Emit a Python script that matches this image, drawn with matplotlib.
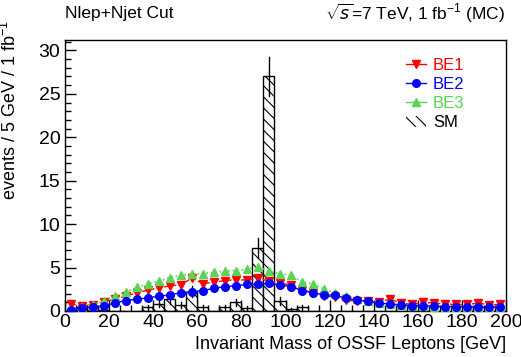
import numpy as np
import matplotlib
matplotlib.use('Agg')
import matplotlib.pyplot as plt
import matplotlib.patches as patches
from matplotlib.lines import Line2D
from matplotlib.ticker import MultipleLocator

plt.rcParams['font.family'] = ['Liberation Sans', 'DejaVu Sans']
plt.rcParams['mathtext.fontset'] = 'custom'
plt.rcParams['mathtext.rm'] = 'Liberation Sans'
plt.rcParams['hatch.linewidth'] = 0.8

# bin edges: 0..200 GeV in 5 GeV bins
bin_edges = np.arange(0, 205, 5)
bin_centers = bin_edges[:-1] + 2.5

# SM background (hatched histogram)
sm = [0, 0.4, 0.4, 0.15, 0, 0, 0, 0.4, 0.85, 1.35,
      0.65, 2.2, 0.4, 0, 0.4, 1.0, 0.3, 7.2, 27.0, 1.2,
      0.2, 0.4, 0, 0, 0, 0, 0, 0, 0, 0,
      0, 0, 0, 0, 0, 0, 0, 0.4, 0, 0]
sm_err = [0, 0.27, 0.27, 0.16, 0, 0, 0, 0.27, 0.39, 0.5,
          0.34, 0.63, 0.27, 0, 0.27, 0.42, 0.23, 1.15, 2.2, 0.46,
          0.19, 0.27, 0, 0, 0, 0, 0, 0, 0, 0,
          0, 0, 0, 0, 0, 0, 0, 0.27, 0, 0]

# signal scenarios
be1 = [0.8, 0.6, 0.7, 1.05, 1.35, 1.7, 2.1, 2.4, 2.65, 2.9,
       3.0, 3.8, 3.15, 3.3, 3.5, 3.6, 3.55, 3.75, 3.45, 3.2,
       3.0, 2.4, 2.1, 1.7, 1.6, 1.25, 1.1, 1.1, 1.05, 1.35,
       0.9, 0.75, 1.0, 0.9, 0.8, 0.75, 0.75, 0.9, 0.7, 0.75]
be2 = [0.15, 0.3, 0.45, 0.6, 0.9, 1.2, 1.35, 1.5, 1.7, 1.85,
       2.1, 2.2, 2.35, 2.6, 2.8, 2.9, 3.05, 3.05, 3.2, 3.0,
       2.8, 2.35, 2.1, 1.85, 1.8, 1.45, 1.25, 1.1, 0.9, 0.8,
       0.7, 0.62, 0.6, 0.52, 0.5, 0.5, 0.47, 0.45, 0.45, 0.42]
be3 = [0.15, 0.4, 0.7, 1.15, 1.7, 2.2, 2.7, 3.1, 3.4, 3.85,
       4.1, 4.25, 4.3, 4.45, 4.6, 4.65, 4.8, 5.05, 4.6, 4.3,
       4.1, 3.35, 3.1, 2.5, 2.05, 1.75, 1.35, 1.15, 0.95, 0.8,
       0.68, 0.57, 0.55, 0.5, 0.48, 0.45, 0.42, 0.4, 0.38, 0.38]

red = '#ff0000'
blue = '#0000ff'
green = '#59d454'

fig = plt.figure(figsize=(5.21, 3.57), dpi=100)
ax = fig.add_axes([0.125, 0.129, 0.846, 0.759])

# SM histogram
ax.bar(bin_centers, sm, width=5, color='white', edgecolor='black',
       hatch='\\\\\\', linewidth=1.0, zorder=2)
for xc, v, e in zip(bin_centers, sm, sm_err):
    if v > 0:
        ax.plot([xc, xc], [v - e, v + e], color='black', lw=1.0, zorder=3)

# signal curves
ax.plot(bin_centers, be1, color=red, ls='--', lw=1, marker='v', ms=5.5, zorder=4)
ax.plot(bin_centers, be3, color=green, ls=':', lw=1.2, marker='^', ms=5.5, zorder=5)
ax.plot(bin_centers, be2, color=blue, ls='-', lw=1, marker='o', ms=5.5, zorder=6)

ax.set_xlim(0, 200)
ax.set_ylim(0, 31.2)
ax.xaxis.set_major_locator(MultipleLocator(20))
ax.xaxis.set_minor_locator(MultipleLocator(5))
ax.yaxis.set_major_locator(MultipleLocator(5))
ax.yaxis.set_minor_locator(MultipleLocator(1))
ax.tick_params(which='both', direction='in', top=False, right=False,
               labelsize=14, width=1)
ax.tick_params(which='major', length=8)
ax.tick_params(which='minor', length=4)
ax.tick_params(axis='x', pad=2)
for s in ax.spines.values():
    s.set_linewidth(1.0)

ax.set_xlabel('Invariant Mass of OSSF Leptons [GeV]', fontsize=13,
              ha='right', x=1.0, labelpad=4)
ax.set_ylabel('events / 5 GeV / 1 fb$^{-1}$', fontsize=13, ha='right')
ax.yaxis.set_label_coords(-0.102, 1.075)

fig.text(0.125, 0.963, 'Nlep+Njet Cut', fontsize=12.5, va='center')
fig.text(0.97, 0.963, r'$\sqrt{s}$=7 TeV, 1 fb$^{-1}$ (MC)', fontsize=12.5,
         va='center', ha='right')

handles = [
    Line2D([], [], color=red, marker='v', ms=5.5, lw=1),
    Line2D([], [], color=blue, marker='o', ms=5.5, lw=1),
    Line2D([], [], color=green, marker='^', ms=5.5, lw=1),
    patches.Patch(facecolor='white', edgecolor='black', linewidth=0,
                  hatch='\\\\\\'),
]
leg = ax.legend(handles, ['BE1', 'BE2', 'BE3', 'SM'], loc='upper left',
                bbox_to_anchor=(0.74, 0.99), frameon=False, fontsize=12,
                handlelength=1.2, handletextpad=0.4, labelspacing=0.25)
for t, c in zip(leg.get_texts(), [red, blue, green, 'black']):
    t.set_color(c)

fig.savefig('out.png', dpi=100)
